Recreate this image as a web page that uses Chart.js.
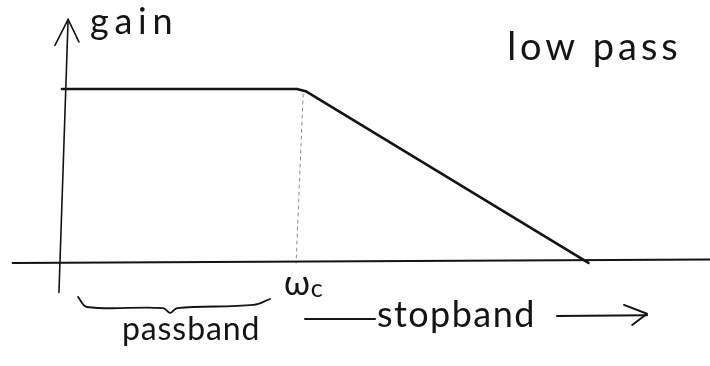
<!DOCTYPE html>
<html>
<head>
<meta charset="utf-8">
<script src="https://cdn.jsdelivr.net/npm/chart.js@4.4.1/dist/chart.umd.min.js"></script>
<style>
  html, body { margin: 0; padding: 0; background: #fff; }
  #wrap { width: 710px; height: 366px; }
</style>
</head>
<body>
<div id="wrap"><canvas id="c"></canvas></div>
<script>
// Ideal low-pass sketch: frequency in units of the cutoff ωc, gain normalised to the passband level.
const freq = [0, 1, 1.04, 2.24];
const gain = [1, 1, 0.985, 0];

// Axis strokes (frequency axis, gain axis and its arrow head)
const freqAxisX = [-0.21, 2.76];
const freqAxisY = [0, 0.02];
const gainAxisX = [-0.013, 0.026];
const gainAxisY = [-0.17, 1.40];
const gainArrowX = [-0.03, 0.026, 0.072];
const gainArrowY = [1.25, 1.40, 1.27];

// Cutoff marker at ωc
const cutoffX = [1.026, 0.996];
const cutoffY = [0.97, 0];

// Brace under the passband
const braceX = [0.068, 0.106, 0.430, 0.460, 0.490, 0.815, 0.885];
const braceY = [-0.195, -0.253, -0.259, -0.287, -0.259, -0.241, -0.207];

// Stopband arrow
const stopDashX = [1.034, 1.332];
const stopDashY = [-0.322, -0.322];
const stopLineX = [2.106, 2.489];
const stopLineY = [-0.305, -0.300];
const stopHeadX = [2.391, 2.489, 2.426];
const stopHeadY = [-0.241, -0.292, -0.356];

const labelGain = 'gain';
const labelTitle = 'low pass';
const labelCutoff = 'ω';
const labelCutoffSub = 'c';
const labelPass = 'passband';
const labelStop = 'stopband';

const pts = (xs, ys) => xs.map((x, i) => ({ x, y: ys[i] }));
const ink = '#141414';

function stroke(xs, ys, width, color, extra) {
  return Object.assign({
    data: pts(xs, ys),
    showLine: true,
    borderColor: color || ink,
    borderWidth: width,
    pointRadius: 0,
    pointHoverRadius: 0,
    fill: false,
    tension: 0,
    borderCapStyle: 'round',
    borderJoinStyle: 'round'
  }, extra || {});
}

// Handwritten-style labels placed in data coordinates and fitted to a span
const labelPlugin = {
  id: 'sketchLabels',
  afterDatasetsDraw(chart) {
    const { ctx } = chart;
    const xs = chart.scales.x, ys = chart.scales.y;
    function put(text, x0, x1, yBase, size) {
      const left = xs.getPixelForValue(x0);
      const right = xs.getPixelForValue(x1);
      const base = ys.getPixelForValue(yBase);
      ctx.save();
      ctx.font = size + 'px Lato, "DejaVu Sans", sans-serif';
      ctx.fillStyle = ink;
      ctx.textAlign = 'left';
      ctx.textBaseline = 'alphabetic';
      const target = right - left;
      if ('letterSpacing' in ctx) ctx.letterSpacing = '0px';
      const w0 = ctx.measureText(text).width;
      let sx = 1;
      if ('letterSpacing' in ctx && text.length > 1) {
        const sp = Math.max(0, (target - w0) / (text.length - 1));
        ctx.letterSpacing = sp.toFixed(2) + 'px';
      } else if (text.length > 1) {
        sx = target / w0;
      }
      ctx.translate(left, base);
      ctx.scale(sx, 1);
      ctx.fillText(text, 0, 0);
      ctx.restore();
    }
    put(labelGain, 0.119, 0.470, 1.316, 36);
    put(labelTitle, 1.894, 2.620, 1.167, 38);
    put(labelCutoff, 0.945, 1.040, -0.184, 34);
    put(labelCutoffSub, 1.058, 1.110, -0.195, 25);
    put(labelPass, 0.255, 0.840, -0.443, 32);
    put(labelStop, 1.340, 2.010, -0.368, 36);
  }
};

new Chart(document.getElementById('c'), {
  type: 'scatter',
  data: {
    datasets: [
      stroke(freqAxisX, freqAxisY, 2),
      stroke(gainAxisX, gainAxisY, 1.6),
      stroke(gainArrowX, gainArrowY, 1.6),
      stroke(cutoffX, cutoffY, 1, '#8a8a8a', { borderDash: [3, 4] }),
      stroke(freq, gain, 2.6),
      stroke(braceX, braceY, 1.8, ink, { tension: 0.35 }),
      stroke(stopDashX, stopDashY, 2),
      stroke(stopLineX, stopLineY, 2),
      stroke(stopHeadX, stopHeadY, 2)
    ]
  },
  options: {
    responsive: true,
    maintainAspectRatio: false,
    animation: false,
    layout: { padding: 0 },
    plugins: { legend: { display: false }, tooltip: { enabled: false } },
    events: [],
    scales: {
      x: { type: 'linear', display: false, min: -0.2638, max: 2.757 },
      y: { type: 'linear', display: false, min: -0.592, max: 1.511 }
    }
  },
  plugins: [labelPlugin]
});
</script>
</body>
</html>
